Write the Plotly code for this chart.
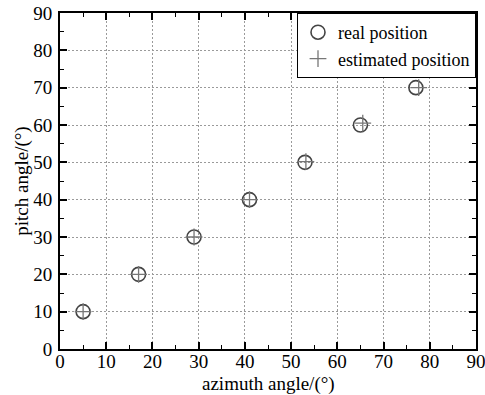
import plotly.graph_objects as go

real_az = [5, 17, 29, 41, 53, 65, 77]
real_pitch = [10, 20, 30, 40, 50, 60, 70]
est_az = [5, 17, 29, 41, 53.2, 65.5, 77.6]
est_pitch = [10, 20, 30, 40, 50.2, 60.5, 70]
ticks = [0, 10, 20, 30, 40, 50, 60, 70, 80, 90]

FONT = "Liberation Serif"

fig = go.Figure()
fig.add_trace(go.Scatter(
    x=real_az, y=real_pitch, mode="markers", name="real position",
    marker=dict(symbol="circle-open", size=14, color="#444444", line=dict(width=1.6)),
))
fig.add_trace(go.Scatter(
    x=est_az, y=est_pitch, mode="markers", name="estimated position",
    marker=dict(symbol="cross-thin-open", size=12, color="#777777", line=dict(width=1.3, color="#777777")),
))

axis_common = dict(
    range=[0, 90], tickvals=ticks, ticktext=[str(t) for t in ticks],
    showline=True, linecolor="black", linewidth=2, mirror="ticks",
    ticks="inside", ticklen=7, tickwidth=2, tickcolor="black",
    minor=dict(ticks="inside", ticklen=4, tickwidth=1, tickcolor="black", dtick=5, showgrid=False),
    showgrid=True, gridcolor="#9a9a9a", gridwidth=1, griddash="2px,2px",
    zeroline=False, automargin=False, ticklabeloverflow="allow",
    tickfont=dict(family="Liberation Serif, Times New Roman, serif", size=19, color="black"),
)

fig.update_xaxes(**axis_common, ticklabelstandoff=-6)
fig.update_yaxes(**axis_common, ticklabelstandoff=2)

fig.add_annotation(text="azimuth angle/(°)", xref="paper", yref="paper", x=0.5, y=-0.105,
                   xanchor="center", yanchor="middle", showarrow=False,
                   font=dict(family=FONT, size=19, color="black"))
fig.add_annotation(text="pitch angle/(°)", xref="paper", yref="paper", x=-0.092, y=0.5,
                   xanchor="center", yanchor="middle", showarrow=False, textangle=-90,
                   font=dict(family=FONT, size=19, color="black"))

fig.update_layout(
    width=485, height=395,
    margin=dict(l=60, r=9, t=13, b=46),
    paper_bgcolor="white", plot_bgcolor="white",
    font=dict(family=FONT, color="black"),
    legend=dict(
        x=1, y=1, xanchor="right", yanchor="top",
        bgcolor="white", bordercolor="black", borderwidth=1,
        font=dict(family=FONT, size=18, color="black"),
        tracegroupgap=0, itemwidth=30,
    ),
    showlegend=True,
)

fig.write_html("out.html")
